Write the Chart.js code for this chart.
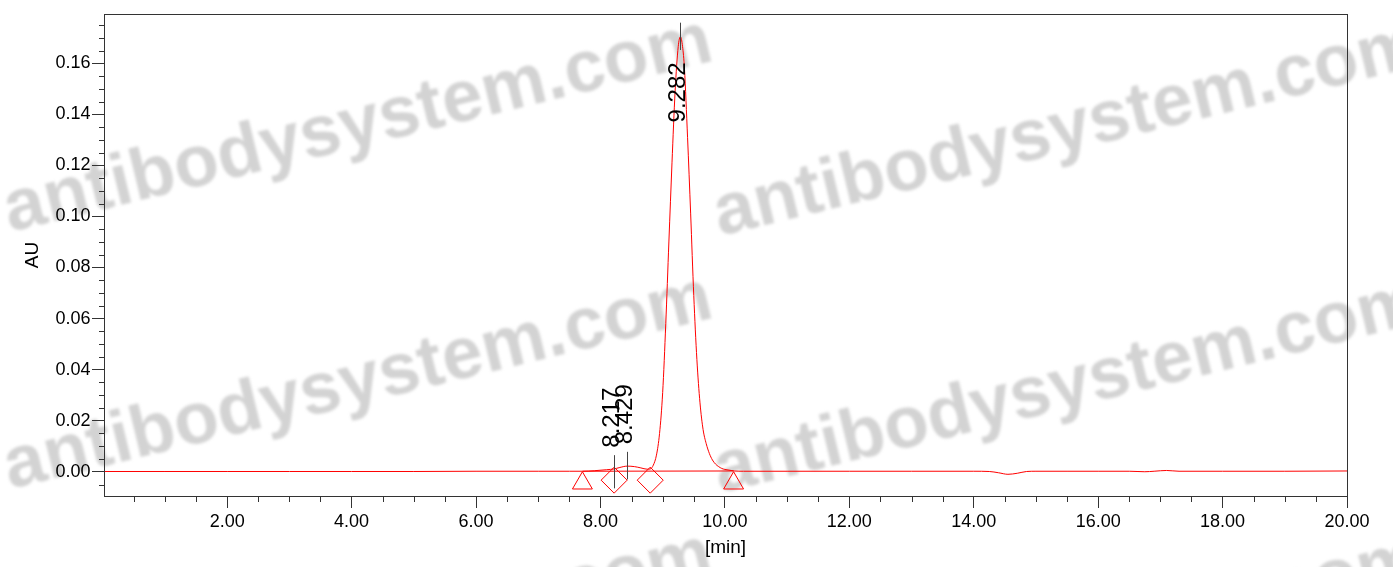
<!DOCTYPE html>
<html>
<head>
<meta charset="utf-8">
<title>Chromatogram</title>
<script src="https://cdn.jsdelivr.net/npm/chart.js@4.4.1/dist/chart.umd.min.js"></script>
<style>
    html, body { margin: 0; padding: 0; background: #fff; }
    #wrap { width: 1393px; height: 567px; position: relative; }
</style>
</head>
<body>
<div id="wrap"><canvas id="chart"></canvas></div>
<script>
// Trace (retention time in min, absorbance in AU)
const timeMin = [0.02, 1, 2, 3, 4, 5, 6, 7, 7.5, 7.71, 7.9, 8.1, 8.22, 8.3, 8.43, 8.55, 8.65, 8.75, 8.80,
    8.85, 8.90, 8.95, 9.00, 9.05, 9.10, 9.15, 9.20, 9.25, 9.285, 9.32, 9.35, 9.40, 9.45, 9.50, 9.55,
    9.60, 9.65, 9.70, 9.75, 9.80, 9.85, 9.90, 9.95, 10.00, 10.05, 10.10, 10.15, 10.3, 11, 12, 13, 14,
    14.25, 14.4, 14.55, 14.7, 14.85, 15.0, 15.5, 16.0, 16.5, 16.75, 16.9, 17.1, 17.3, 18, 19, 20];
const signalAU = [0.0001, 0.0001, 0.0001, 0.0001, 0.0001, 0.0001, 0.0002, 0.0002, 0.0002, 0.0002, 0.0004, 0.0008, 0.0011, 0.0016, 0.0022, 0.0020, 0.0015, 0.0010, 0.0011,
    0.0026, 0.0065, 0.0150, 0.0310, 0.0580, 0.0900, 0.1210, 0.1490, 0.1665, 0.1704, 0.1665, 0.1580, 0.1310, 0.1010, 0.0690, 0.0440,
    0.0270, 0.0165, 0.0110, 0.0072, 0.0046, 0.0030, 0.0020, 0.0013, 0.0009, 0.0007, 0.0005, 0.0003, 0.0002, 0.0002, 0.0002, 0.0002, 0.0002,
    0.0001, -0.0004, -0.0010, -0.0006, 0.0001, 0.0002, 0.0002, 0.0002, 0.0002, 0.0000, 0.0002, 0.0005, 0.0002, 0.0002, 0.0002, 0.0003];

// Integration baseline and event markers
const baselineTime = [7.71, 10.14];
const baselineAU = [0.0002, 0.0003];
const triangleTime = [7.71, 10.14];
const triangleAU = [-0.0045, -0.0045];
const diamondTime = [8.22, 8.80];
const diamondAU = [-0.0033, -0.0033];

// Peak labels: time, label line ends and text centre in AU
const peakTime = [8.217, 8.429, 9.282];
const peakLineTop = [0.0065, 0.0078, 0.1759];
const peakLineBottom = [-0.0065, -0.0030, 0.1652];
const peakTextAt = [0.0212, 0.0225, 0.1486];

const xTicks = [2, 4, 6, 8, 10, 12, 14, 16, 18, 20];
const yTicks = [0, 0.02, 0.04, 0.06, 0.08, 0.10, 0.12, 0.14, 0.16];

const FONT = "'Liberation Sans', Arial, sans-serif";
const AXIS = '#333333';
const RED = '#ff0000';

const toPoints = (xs, ys) => xs.map((x, i) => ({ x: x, y: ys[i] }));

// watermark tiles behind everything
const watermark = {
    id: 'watermark',
    beforeDraw(chart) {
        const ctx = chart.ctx;
        ctx.save();
        ctx.fillStyle = '#fff';
        ctx.fillRect(0, 0, chart.width, chart.height);
        ctx.font = 'bold 73px ' + FONT;
        ctx.fillStyle = 'rgba(150,150,150,0.42)';
        ctx.filter = 'blur(1.4px)';
        ctx.textBaseline = 'alphabetic';
        const origins = [[10, 232], [720, 236], [10, 489], [720, 493], [10, 746], [720, 750]];
        origins.forEach(([ox, oy]) => {
            ctx.save();
            ctx.translate(ox, oy);
            ctx.rotate(-13.7 * Math.PI / 180);
            ctx.fillText('antibodysystem.com', 0, 0);
            ctx.restore();
        });
        ctx.restore();
    }
};

// frame, minor ticks and peak labels
const decorations = {
    id: 'decorations',
    afterDatasetsDraw(chart) {
        const { ctx, chartArea: a, scales: { x, y } } = chart;
        ctx.save();
        ctx.strokeStyle = AXIS;
        ctx.lineWidth = 1;
        ctx.strokeRect(Math.round(a.left) + 0.5, Math.round(a.top) + 0.5,
            Math.round(a.right - a.left), Math.round(a.bottom - a.top));

        // minor ticks
        ctx.beginPath();
        for (let v = 0.5; v < 20; v += 0.5) {
            if (Math.abs(v / 2 - Math.round(v / 2)) < 1e-6) continue;
            const px = Math.round(x.getPixelForValue(v)) + 0.5;
            ctx.moveTo(px, a.bottom);
            ctx.lineTo(px, a.bottom + 6);
        }
        for (let k = -1; k <= 35; k++) {
            if (k % 4 === 0) continue;
            const py = Math.round(y.getPixelForValue(k * 0.005)) + 0.5;
            ctx.moveTo(a.left - 5, py);
            ctx.lineTo(a.left, py);
        }
        ctx.stroke();

        // peak labels
        ctx.strokeStyle = '#444';
        ctx.fillStyle = '#000';
        ctx.font = '24px ' + FONT;
        ctx.textAlign = 'center';
        ctx.textBaseline = 'middle';
        peakTime.forEach((t, i) => {
            const px = Math.round(x.getPixelForValue(t)) + 0.5;
            ctx.beginPath();
            ctx.moveTo(px, y.getPixelForValue(peakLineTop[i]));
            ctx.lineTo(px, y.getPixelForValue(peakLineBottom[i]));
            ctx.stroke();
            ctx.save();
            ctx.translate(px - 2, y.getPixelForValue(peakTextAt[i]));
            ctx.rotate(-Math.PI / 2);
            ctx.fillText(t.toFixed(3), 0, 0);
            ctx.restore();
        });
        ctx.restore();
    }
};

new Chart(document.getElementById('chart'), {
    type: 'line',
    data: {
        datasets: [
            {
                label: 'Signal',
                data: toPoints(timeMin, signalAU),
                borderColor: RED,
                borderWidth: 1,
                pointRadius: 0,
                cubicInterpolationMode: 'monotone'
            },
            {
                label: 'Baseline',
                data: toPoints(baselineTime, baselineAU),
                borderColor: RED,
                borderWidth: 1,
                pointRadius: 0
            },
            {
                label: 'Start/End',
                data: toPoints(triangleTime, triangleAU),
                showLine: false,
                pointStyle: 'triangle',
                pointRadius: 11.5,
                borderColor: RED,
                borderWidth: 1,
                backgroundColor: 'rgba(0,0,0,0)'
            },
            {
                label: 'Drop',
                data: toPoints(diamondTime, diamondAU),
                showLine: false,
                pointStyle: 'rectRot',
                pointRadius: 13,
                borderColor: RED,
                borderWidth: 1,
                backgroundColor: 'rgba(0,0,0,0)'
            }
        ]
    },
    options: {
        responsive: true,
        maintainAspectRatio: false,
        animation: false,
        layout: { padding: { left: 0, top: 14, right: 46, bottom: 0 } },
        plugins: {
            legend: { display: false },
            tooltip: { enabled: false }
        },
        scales: {
            x: {
                type: 'linear',
                min: 0.02,
                max: 20,
                afterBuildTicks: (axis) => { axis.ticks = xTicks.map(v => ({ value: v })); },
                afterFit: (s) => { s.height = 71; },
                ticks: {
                    callback: (v) => Number(v).toFixed(2),
                    font: { family: FONT, size: 18 },
                    color: '#000',
                    padding: 3,
                    maxRotation: 0,
                    autoSkip: false
                },
                grid: { drawOnChartArea: false, drawTicks: true, tickLength: 12, color: AXIS, tickColor: AXIS },
                border: { color: AXIS, width: 1 },
                title: {
                    display: true,
                    text: '[min]',
                    font: { family: FONT, size: 19 },
                    color: '#000',
                    padding: { top: 0, bottom: 8 }
                }
            },
            y: {
                type: 'linear',
                min: -0.0095,
                max: 0.1793,
                afterBuildTicks: (axis) => { axis.ticks = yTicks.map(v => ({ value: v })); },
                afterFit: (s) => { s.width = 104; },
                ticks: {
                    callback: (v) => Number(v).toFixed(2),
                    font: { family: FONT, size: 18 },
                    color: '#000',
                    padding: 1.5
                },
                grid: { drawOnChartArea: false, drawTicks: true, tickLength: 12, color: AXIS, tickColor: AXIS },
                border: { color: AXIS, width: 1 },
                title: {
                    display: true,
                    text: 'AU',
                    font: { family: FONT, size: 19 },
                    color: '#000',
                    padding: { top: 21, bottom: 0 }
                }
            }
        }
    },
    plugins: [watermark, decorations]
});
</script>
</body>
</html>
